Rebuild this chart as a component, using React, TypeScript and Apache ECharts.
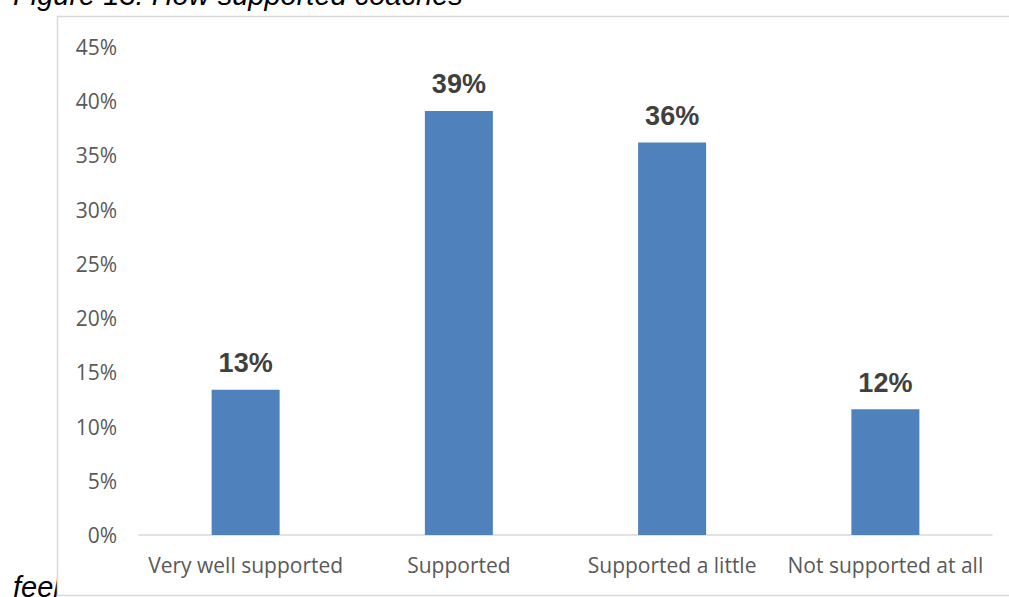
import React, { useEffect, useRef } from "react";
import * as echarts from "echarts";

const categories = ["Very well supported", "Supported", "Supported a little", "Not supported at all"];
const values = [13.4, 39.1, 36.2, 11.6];
const yTicks = { min: 0, max: 45, interval: 5 };
const titleText = "Figure 13: How supported coaches";
const footText = "feel";

export default function App() {
  const ref = useRef<HTMLDivElement>(null);
  useEffect(() => {
    const chart = echarts.init(ref.current!, null, { renderer: "svg" });
    chart.setOption({
      animation: false,
      backgroundColor: "#ffffff",
      graphic: [
        {
          type: "text",
          z: -20,
          x: 13,
          y: -5,
          style: {
            text: titleText,
            font: "italic 29px Arial, 'Liberation Sans', sans-serif",
            fill: "#000000",
            verticalAlign: "middle",
            align: "left",
          },
        },
        {
          type: "text",
          z: -20,
          x: 13,
          y: 587,
          style: {
            text: footText,
            font: "italic 29px Arial, 'Liberation Sans', sans-serif",
            fill: "#000000",
            verticalAlign: "middle",
            align: "left",
          },
        },
        {
          type: "rect",
          z: -10,
          shape: { x: 57.5, y: 16.5, width: 1000, height: 579 },
          style: { fill: "#ffffff", stroke: "#d9d9d9", lineWidth: 1.5 },
        },
      ],
      grid: { left: 139, right: 17, top: 47, bottom: 62 },
      xAxis: {
        type: "category",
        data: categories,
        axisTick: { show: false },
        axisLine: { lineStyle: { color: "#d9d9d9", width: 1.5 } },
        axisLabel: {
          color: "#595959",
          fontSize: 21,
          fontFamily: "'Open Sans', sans-serif",
          margin: 19,
          interval: 0,
        },
      },
      yAxis: {
        type: "value",
        min: yTicks.min,
        max: yTicks.max,
        interval: yTicks.interval,
        splitLine: { show: false },
        axisLine: { show: false },
        axisTick: { show: false },
        axisLabel: {
          color: "#595959",
          fontSize: 21,
          fontFamily: "'Open Sans', sans-serif",
          margin: 22,
          formatter: "{value}%",
        },
      },
      series: [
        {
          type: "bar",
          data: values,
          barWidth: 68,
          itemStyle: { color: "#4f81bd" },
          label: {
            show: true,
            position: "top",
            distance: 13,
            color: "#404040",
            fontSize: 27,
            fontWeight: "bold",
            fontFamily: "Arial, 'Liberation Sans', sans-serif",
            formatter: (p: any) => Math.round(p.value) + "%",
          },
        },
      ],
    });
    return () => chart.dispose();
  }, []);
  return (
    <div
      ref={ref}
      style={{ position: "absolute", left: 0, top: 0, width: 1009, height: 597 }}
    />
  );
}
